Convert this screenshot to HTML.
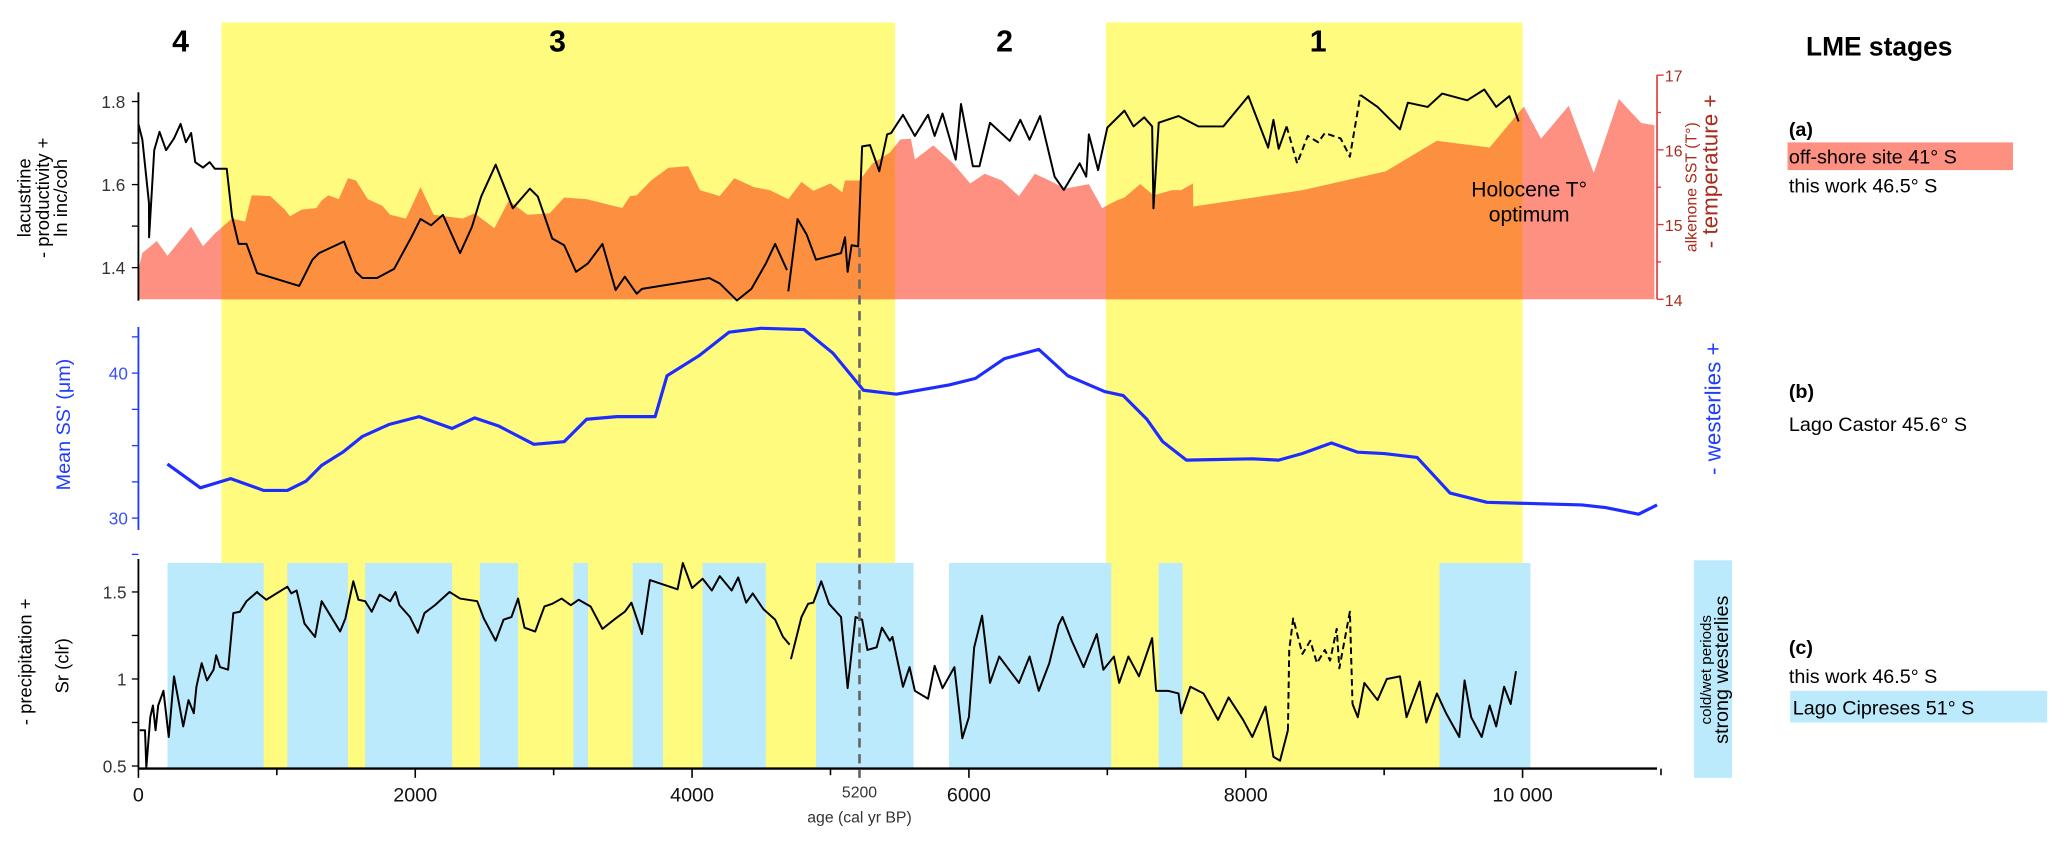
<!DOCTYPE html>
<html><head><meta charset="utf-8">
<style>
html,body{margin:0;padding:0;background:#fff;}
svg{display:block;font-family:"Liberation Sans",Arial,sans-serif;}
</style></head>
<body>
<svg id="chart" xmlns="http://www.w3.org/2000/svg" width="2067" height="853" viewBox="0 0 1568 647" preserveAspectRatio="none">
  <defs>
    <clipPath id="yclip"></clipPath>
  </defs>
  <g id="bands"></g>
  <g id="blues"></g>
  <g id="sst"></g>
  <g id="lines"></g>
  <line x1="652" y1="188" x2="652" y2="590" stroke="#666" stroke-width="2" stroke-dasharray="7,5"/>
  <g id="axes"></g>

  <g font-weight="bold" font-size="23" text-anchor="middle">
    <text x="137" y="39">4</text>
    <text x="423" y="39">3</text>
    <text x="762" y="39">2</text>
    <text x="1000" y="39">1</text>
  </g>
  <text font-size="16" text-anchor="middle" x="1160" y="149">Holocene T°</text>
  <text font-size="16" text-anchor="middle" x="1160" y="168">optimum</text>

  <g font-size="14" text-anchor="middle">
    <text transform="translate(23,150) rotate(-90)">lacustrine</text>
    <text transform="translate(37,150) rotate(-90)">- productivity +</text>
    <text transform="translate(51,150) rotate(-90)">ln inc/coh</text>
    <text fill="#1f3cff" font-size="15" transform="translate(53,322) rotate(-90)">Mean SS' (μm)</text>
    <text transform="translate(24,502) rotate(-90)">- precipitation +</text>
    <text transform="translate(52,505) rotate(-90)">Sr (clr)</text>
  </g>
  <g text-anchor="middle">
    <text font-size="12" fill="#a82b1c" transform="translate(1287,142) rotate(-90)">alkenone  SST (T°)</text>
    <text font-size="17" fill="#a82b1c" transform="translate(1303,130) rotate(-90)">- temperature +</text>
    <text font-size="17" fill="#1f3cff" transform="translate(1305,310) rotate(-90)">- westerlies +</text>
    <rect x="1285" y="425" width="29" height="165" fill="#bbeafd"/>
    <text font-size="11.5" transform="translate(1298,508) rotate(-90)">cold/wet periods</text>
    <text font-size="15" transform="translate(1311,508) rotate(-90)">strong westerlies</text>
  </g>

  <g font-size="15">
    <text x="1370" y="42" font-weight="bold" font-size="20">LME stages</text>
    <text x="1357" y="103" font-weight="bold">(a)</text>
    <rect x="1356" y="108" width="171" height="21" fill="#fd9080"/>
    <text x="1357" y="124">off-shore site 41° S</text>
    <text x="1357" y="146">this work 46.5° S</text>
    <text x="1357" y="302" font-weight="bold">(b)</text>
    <text x="1357" y="327">Lago Castor 45.6° S</text>
    <text x="1357" y="496" font-weight="bold">(c)</text>
    <text x="1357" y="518">this work 46.5° S</text>
    <rect x="1358" y="524" width="195" height="24" fill="#bbeafd"/>
    <text x="1360" y="542">Lago Cipreses 51° S</text>
  </g>
</svg>
<script>
// ---- data ----
const yellowStart=[600,6990];
const yellowEnd=[5467,10000];
const blueStart=[210,1076,1638,2467,3143,3571,4076,4895,5857,7371,9400];
const blueEnd=[905,1514,2267,2743,3248,3790,4533,5600,7029,7543,10057];

const sstAge=[0,29,133,210,381,467,552,676,771,819,952,1057,1095,1181,1286,1324,1371,1448,1514,1571,1657,1762,1819,1933,2038,2133,2343,2429,2571,2676,2810,2971,3076,3238,3495,3552,3600,3705,3829,3971,4057,4200,4305,4448,4562,4695,4790,4876,5000,5086,5105,5210,5305,5429,5505,5581,5610,5743,5886,6010,6114,6238,6362,6476,6581,6695,6867,6962,7067,7124,7238,7333,7467,7533,7619,7620,8410,9010,9381,9762,10010,10133,10333,10514,10695,10857,10952];
const sstVal=[14.39,14.62,14.78,14.58,14.97,14.71,14.88,15.08,15.04,15.39,15.38,15.20,15.11,15.20,15.22,15.32,15.39,15.34,15.62,15.59,15.34,15.25,15.13,15.08,15.50,15.13,15.08,15.15,14.95,15.32,15.13,15.15,15.36,15.34,15.22,15.38,15.39,15.59,15.76,15.78,15.46,15.38,15.62,15.50,15.46,15.34,15.57,15.45,15.55,15.43,15.59,15.59,15.82,15.96,16.14,16.15,15.87,16.06,15.82,15.55,15.68,15.59,15.38,15.68,15.59,15.48,15.54,15.22,15.32,15.36,15.54,15.39,15.46,15.46,15.55,15.24,15.46,15.71,16.12,16.03,16.58,16.15,16.59,15.69,16.68,16.36,16.33];

const incAge1=[0,29,76,77,114,152,200,257,305,343,381,410,467,514,552,638,676,724,781,857,1162,1257,1305,1486,1571,1619,1724,1848,1971,2038,2114,2200,2324,2410,2476,2581,2705,2829,2886,2990,3076,3162,3248,3352,3448,3514,3600,3638,4124,4200,4324,4429,4533,4600,4686];
const incVal1=[1.746,1.708,1.556,1.473,1.683,1.727,1.683,1.711,1.746,1.702,1.724,1.654,1.641,1.654,1.638,1.638,1.524,1.457,1.457,1.387,1.356,1.419,1.435,1.463,1.390,1.375,1.375,1.397,1.473,1.517,1.502,1.527,1.435,1.498,1.571,1.648,1.543,1.590,1.571,1.470,1.454,1.390,1.410,1.457,1.346,1.378,1.337,1.349,1.375,1.362,1.321,1.349,1.410,1.457,1.394];
const incAge2=[4695,4762,4829,4895,5076,5105,5124,5152,5200,5229,5286,5352,5410,5438,5524,5610,5705,5752,5810,5905,5943,6029,6076,6152,6295,6371,6438,6514,6619,6686,6800,6848,6867,6933,7000,7124,7190,7267,7324,7333,7371,7514,7657,7838,8019,8162,8200,8238,8295];
const incVal2=[1.343,1.517,1.479,1.419,1.435,1.473,1.390,1.454,1.451,1.692,1.695,1.632,1.721,1.724,1.768,1.717,1.768,1.717,1.771,1.660,1.794,1.644,1.644,1.749,1.705,1.756,1.708,1.765,1.619,1.587,1.651,1.619,1.721,1.635,1.737,1.778,1.740,1.762,1.740,1.543,1.749,1.765,1.740,1.740,1.813,1.689,1.756,1.686,1.740];
const incAgeDash=[8295,8371,8448,8524,8571,8686,8752,8829];
const incValDash=[1.740,1.651,1.717,1.702,1.724,1.711,1.667,1.816];
const incAge3=[8829,8952,9114,9171,9314,9419,9600,9724,9810,9905,9971];
const incVal3=[1.816,1.787,1.733,1.797,1.787,1.819,1.803,1.829,1.787,1.813,1.752];

const ssAge=[210,448,667,905,1076,1210,1324,1476,1619,1810,2029,2267,2429,2600,2857,3076,3238,3457,3733,3819,4048,4267,4495,4810,5019,5238,5476,5857,6048,6257,6505,6714,6981,7114,7286,7400,7571,8048,8238,8410,8619,8810,9000,9238,9476,9743,10429,10600,10838,10971];
const ssVal=[33.73,32.09,32.73,31.91,31.91,32.55,33.64,34.55,35.64,36.45,37.00,36.18,36.91,36.36,35.09,35.27,36.82,37.00,37.00,39.82,41.18,42.82,43.09,43.00,41.36,38.82,38.55,39.18,39.64,41.00,41.64,39.82,38.73,38.45,36.82,35.27,34.00,34.09,34.00,34.45,35.18,34.55,34.45,34.18,31.73,31.09,30.91,30.73,30.27,30.91];

const srAge1=[10,48,57,86,105,124,143,181,219,257,324,362,400,419,457,495,543,562,590,648,686,733,781,857,867,924,1076,1105,1143,1200,1276,1324,1457,1495,1552,1590,1638,1686,1743,1819,1857,1886,1962,2019,2067,2143,2248,2324,2448,2495,2581,2638,2695,2743,2790,2867,2933,2990,3057,3124,3181,3267,3352,3448,3514,3562,3638,3695,3895,3933,4000,4076,4143,4200,4286,4333,4390,4438,4514,4600,4657,4705];
const srVal1=[0.705,0.705,0.492,0.780,0.848,0.705,0.848,0.932,0.667,1.015,0.727,0.879,0.803,0.955,1.091,0.992,1.053,1.136,1.068,1.053,1.379,1.386,1.447,1.500,1.492,1.455,1.530,1.492,1.508,1.318,1.242,1.447,1.273,1.348,1.561,1.455,1.447,1.386,1.485,1.447,1.500,1.424,1.356,1.265,1.379,1.424,1.500,1.462,1.447,1.348,1.220,1.341,1.356,1.462,1.295,1.273,1.417,1.432,1.462,1.424,1.455,1.417,1.288,1.348,1.386,1.439,1.258,1.568,1.515,1.667,1.523,1.576,1.508,1.591,1.508,1.583,1.439,1.492,1.402,1.341,1.242,1.197];
const srAge2=[4714,4790,4838,4876,4933,4990,5076,5124,5181,5229,5267,5333,5371,5429,5448,5524,5571,5610,5705,5752,5810,5895,5952,6000,6038,6095,6152,6219,6362,6438,6505,6581,6648,6676,6743,6829,6924,6971,7048,7086,7152,7229,7324,7352,7438,7514,7533,7600,7695,7800,7876,7981,8048,8143,8200,8248,8305];
const srVal2=[1.114,1.356,1.432,1.439,1.561,1.432,1.356,0.947,1.356,1.341,1.167,1.182,1.295,1.220,1.242,0.955,1.068,0.932,0.886,1.076,0.947,1.068,0.659,0.780,1.182,1.364,0.977,1.129,0.977,1.129,0.932,1.091,1.311,1.356,1.220,1.068,1.258,1.053,1.129,0.977,1.129,1.015,1.235,0.932,0.932,0.917,0.803,0.955,0.917,0.765,0.894,0.765,0.667,0.841,0.553,0.530,0.705];
const srAgeDash=[8305,8314,8343,8410,8467,8514,8571,8610,8657,8676,8752,8771];
const srValDash=[0.705,1.167,1.348,1.144,1.220,1.091,1.167,1.106,1.288,1.061,1.386,0.856];
const srAge3=[8771,8810,8857,8952,9019,9114,9162,9257,9305,9381,9448,9543,9581,9629,9705,9762,9810,9867,9914,9952];
const srVal3=[0.856,0.780,0.977,0.879,1.000,1.015,0.780,0.985,0.750,0.917,0.803,0.667,0.992,0.780,0.667,0.848,0.727,0.955,0.856,1.045];

const xTicks=[0,2000,4000,6000,8000,10000];
const xTickLabels=["0","2000","4000","6000","8000","10 000"];
const incTicks=[1.4,1.6,1.8];
const sstTicks=[14,15,16,17];
const ssTicks=[30,40];
const srTicks=[0.5,1,1.5];

// ---- scales ----
const X=a=>105+a*0.105;
const YA=v=>203-(v-1.4)*315;
const YT=t=>227-(t-14)*56.67;
const YB=v=>283-(v-40)*11;
const YC=v=>515-(v-1)*132;

const NS="http://www.w3.org/2000/svg";
function mk(tag,parent,attrs){const e=document.createElementNS(NS,tag);for(const k in attrs)e.setAttribute(k,attrs[k]);parent.appendChild(e);return e;}
function pts(ages,vals,fy){return ages.map((a,i)=>X(a).toFixed(1)+","+fy(vals[i]).toFixed(1)).join(" ");}

const bands=document.getElementById('bands');
const clip=document.getElementById('yclip');
yellowStart.forEach((s,i)=>{
  const r=mk('rect',bands,{x:X(s),y:17,width:X(yellowEnd[i])-X(s),height:566,fill:'#fefb7e'});
  
  
  mk('rect',clip,{x:X(s),y:0,width:X(yellowEnd[i])-X(s),height:647});
});
const blues=document.getElementById('blues');
blueStart.forEach((s,i)=>{
  const r=mk('rect',blues,{x:X(s),y:427,width:X(blueEnd[i])-X(s),height:156,fill:'#bbeafd'});
  
  
});

// SST area
const sstG=document.getElementById('sst');
const areaPts=X(sstAge[0]).toFixed(1)+","+YT(14)+" "+pts(sstAge,sstVal,YT)+" "+X(sstAge[sstAge.length-1]).toFixed(1)+","+YT(14);
const a1=mk('polygon',sstG,{points:areaPts,fill:'#fd9080'});


const a2=mk('polygon',sstG,{points:areaPts,fill:'#fd9040','clip-path':'url(#yclip)'});



const lines=document.getElementById('lines');
function line(ages,vals,fy,color,w,dash,name){
  const p=mk('polyline',lines,{points:pts(ages,vals,fy),fill:'none',stroke:color,'stroke-width':w,'stroke-linejoin':'round'});
  if(dash)p.setAttribute('stroke-dasharray',dash);
  
  
}
line(incAge1,incVal1,YA,'#000',1.5,null,'inc-coh-line-1');
line(incAge2,incVal2,YA,'#000',1.5,null,'inc-coh-line-2');
line(incAgeDash,incValDash,YA,'#000',1.5,'5,3','inc-coh-line-dashed');
line(incAge3,incVal3,YA,'#000',1.5,null,'inc-coh-line-3');
line(ssAge,ssVal,YB,'#1f2cff',2.4,null,'mean-ss-line');
line(srAge1,srVal1,YC,'#000',1.5,null,'sr-clr-line-1');
line(srAge2,srVal2,YC,'#000',1.5,null,'sr-clr-line-2');
line(srAgeDash,srValDash,YC,'#000',1.5,'5,3','sr-clr-line-dashed');
line(srAge3,srVal3,YC,'#000',1.5,null,'sr-clr-line-3');

// axes
const ax=document.getElementById('axes');
function axLine(x1,y1,x2,y2,c,w,name){const l=mk('line',ax,{x1,y1,x2,y2,stroke:c,'stroke-width':w});return l;}
function lbl(x,y,t,c,size,anchor,name){const e=mk('text',ax,{x,y,fill:c,'font-size':size,'text-anchor':anchor});e.textContent=t;return e;}
// x axis
axLine(105,583,1257,583,'#000',1.8,'x-axis');
for(let a=0;a<=11000;a+=1000){axLine(X(a),583,X(a),a%2000===0?590:588,'#000',1.2,'x-tick');}
xTicks.forEach((t,i)=>lbl(X(t),608,xTickLabels[i],'#111',15,'middle','x-tick-label'));
lbl(652,605,'5200','#333',12,'middle','x-label-5200');
lbl(652,624,'age (cal yr BP)','#333',12,'middle','x-axis-title');
// panel a
axLine(105,70,105,228,'#000',1.4,'y-axis-a');
for(let v=1.4;v<=1.81;v+=0.1){axLine(100,YA(v),105,YA(v),'#000',1,'y-tick-a');}
incTicks.forEach(v=>lbl(95,YA(v)+5,v.toFixed(1),'#333',13,'end','y-tick-label-a'));
axLine(1257,57,1257,227,'#d33',1.2,'sst-axis');
for(let t=14;t<=17;t+=0.5){axLine(1257,YT(t),t%1===0?1262:1260,YT(t),'#d33',1,'sst-tick');}
sstTicks.forEach(t=>lbl(1263,YT(t)+5,String(t),'#a82b1c',12,'start','sst-tick-label'));
// panel b
axLine(105,248,105,402,'#1f3cff',1.4,'y-axis-b');
for(let v=27.5;v<=42.6;v+=2.5){axLine(100,YB(v),105,YB(v),'#1f3cff',1,'y-tick-b');}
ssTicks.forEach(v=>lbl(97,YB(v)+5,String(v),'#3a50ff',13,'end','y-tick-label-b'));
// panel c
axLine(105,424,105,583,'#000',1.4,'y-axis-c');
for(let v=0.5;v<=1.51;v+=0.25){axLine(100,YC(v),105,YC(v),'#000',1,'y-tick-c');}
srTicks.forEach(v=>lbl(96,YC(v)+5,String(v),'#333',13,'end','y-tick-label-c'));
</script>
</body></html>
